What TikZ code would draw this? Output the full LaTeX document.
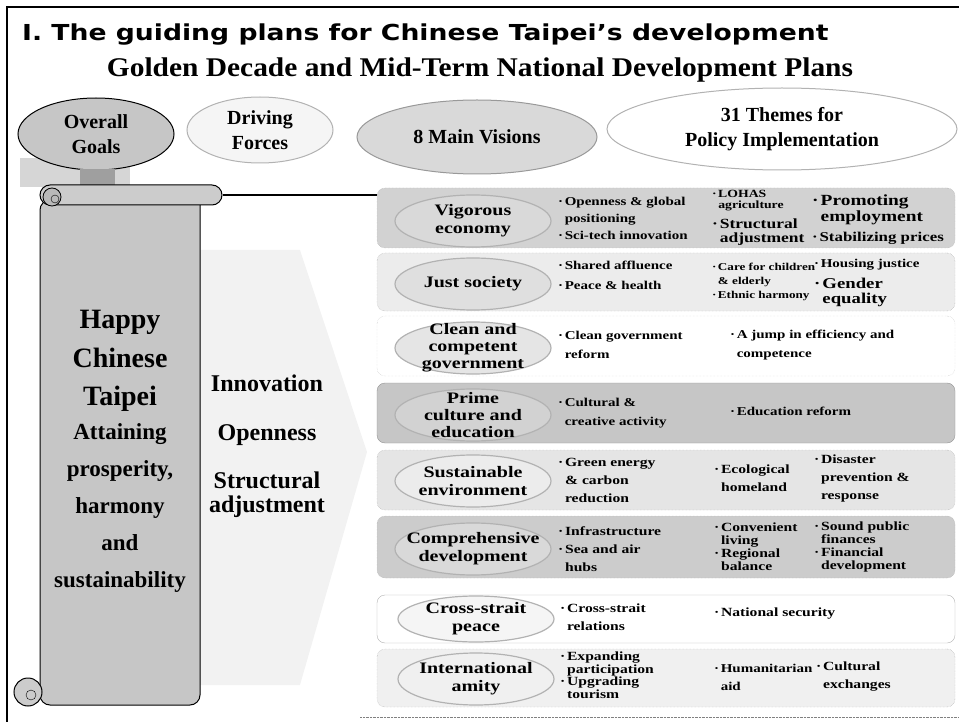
\documentclass[tikz,border=0pt]{standalone}
\usepackage{fontspec}
\setmainfont{Liberation Serif}
\newfontfamily\titlefont[FakeStretch=1.21]{DejaVu Sans}
\newfontfamily\subfont[FakeStretch=1.09]{Liberation Serif}
\newfontfamily\rowfont[FakeStretch=1.25]{Liberation Serif}
\usetikzlibrary{shapes.geometric}
\newcommand{\bul}{\makebox[0.55em][l]{·}}
\newcommand{\indt}{\hspace*{0.55em}}
\newcommand{\fs}[2]{\fontsize{#1}{#2}\selectfont}

\begin{document}
\begin{tikzpicture}[x=1pt, y=-1pt]
  \tikzset{
    head/.style={ellipse, draw=gray!60, line width=1pt, align=center, inner sep=0pt, font=\bfseries\fs{20}{25}},
    rowbox/.style={rounded corners=8pt, draw=gray!70, densely dotted, minimum width=578pt, inner sep=0pt},
    vis/.style={ellipse, draw=gray!60, line width=1.2pt, minimum width=156pt, minimum height=52pt, inner sep=0pt},
    vislabel/.style={align=center, inner sep=0pt, font=\rowfont\bfseries\fs{16}{18}},
    theme/.style={anchor=west, align=left, inner sep=0pt, font=\rowfont\bfseries\fs{12}{17}},
    force/.style={inner sep=0pt, align=center, font=\bfseries\fs{24}{24}}
  }
  \useasboundingbox (0,0) rectangle (959,722);
  \draw[line width=1.5pt] (7,722) -- (7,7) -- (959,7);

  % headings
  \node[anchor=base west, inner sep=0pt, font=\titlefont\bfseries\fs{22}{26}] (title) at (22,41) {I. The guiding plans for Chinese Taipei’s development};
  \node[anchor=base, inner sep=0pt, font=\subfont\bfseries\fs{27}{30}] (subtitle) at (480,77) {Golden Decade and Mid-Term National Development Plans};

  % column heads
  \fill[gray!32] (20,158) rectangle (130,187);
  \node[head, fill=gray!45, draw=black, minimum width=156pt, minimum height=72pt] (goals) at (96,134) {Overall\\Goals};
  \node[head, fill=gray!8, minimum width=146pt, minimum height=66pt] (forces) at (260,130) {Driving\\Forces};
  \node[head, fill=gray!30, draw=gray!80, minimum width=240pt, minimum height=74pt] (visions) at (477,137) {8 Main Visions};
  \node[head, fill=white, minimum width=350pt, minimum height=82pt] (themes) at (782,129) {31 Themes for\\Policy Implementation};
  \node[fill=gray!75, minimum width=35pt, minimum height=16pt, inner sep=0pt] (stem) at (97,177) {};

  % scroll and driving forces
  \fill[gray!10] (200,250) -- (300,250) -- (367,452) -- (300,685) -- (200,685) -- cycle;
  \draw[fill=gray!45, line width=1pt] (40,200) -- (200,200) [rounded corners=10pt] -- (200,705) -- (40,705) -- cycle;
  \node[draw, line width=1pt, fill=gray!40, rounded corners=10pt, minimum width=182pt, minimum height=20pt, inner sep=0pt] (roll) at (131,195) {};
  \draw[line width=0.8pt, fill=gray!55] (52,197) circle (9);
  \draw (55,199) circle (4);
  \draw[line width=1pt, fill=gray!40] (28,692) circle (14);
  \draw (31,695) circle (5);

  \node[align=center, inner sep=0pt, font=\bfseries\fs{28}{38.5}] (happy) at (120,361) {Happy\\Chinese\\Taipei};
  \node[align=center, inner sep=0pt, font=\bfseries\fs{23}{37}] (aim) at (120,508) {Attaining\\prosperity,\\harmony\\and\\sustainability};
  \node[force] (innov) at (267,383) {Innovation};
  \node[force] (open) at (267,435) {Openness};
  \node[force] (struct) at (267,495) {Structural\\adjustment};

  % rows
  \node[rowbox, fill=gray!35, minimum height=60pt] (rowA) at (666,218) {};
  \node[rowbox, fill=gray!15, minimum height=58pt] (rowB) at (666,282) {};
  \node[rowbox, draw=gray!50, minimum height=60pt] (rowC) at (666,346) {};
  \node[rowbox, fill=gray!45, draw=gray!85, solid, minimum height=60pt] (rowD) at (666,413) {};
  \node[rowbox, fill=gray!20, minimum height=60pt] (rowE) at (666,480) {};
  \node[rowbox, fill=gray!40, minimum height=62pt] (rowF) at (666,547) {};
  \node[rowbox, draw=gray!60, solid, minimum height=48pt] (rowG) at (666,619) {};
  \node[rowbox, fill=gray!12, minimum height=58pt] (rowH) at (666,678) {};
  \draw[densely dotted, gray] (360,717) -- (959,717);
  \draw[line width=1.2pt] (roll.east) -- (roll.east -| rowA.west);

  \node[vis, fill=gray!30, label={[vislabel]center:Vigorous\\economy}] (visA) at (473,221) {};
  \node[vis, fill=gray!25, label={[vislabel]center:Just society}] (visB) at (473,284) {};
  \node[vis, fill=gray!20, label={[vislabel, font=\rowfont\bfseries\fs{16}{17}]center:Clean and\\competent\\government}] (visC) at (473,348) {};
  \node[vis, fill=gray!35, label={[vislabel, font=\rowfont\bfseries\fs{16}{17}]center:Prime\\culture and\\education}] (visD) at (473,415) {};
  \node[vis, fill=gray!15, label={[vislabel]center:Sustainable\\environment}] (visE) at (473,481) {};
  \node[vis, fill=gray!30, label={[vislabel]center:Comprehensive\\development}] (visF) at (473,549) {};
  \node[vis, fill=gray!8, minimum height=46pt, label={[vislabel]center:Cross-strait\\peace}] (visG) at (476,619) {};
  \node[vis, fill=gray!12, label={[vislabel]center:International\\amity}] (visH) at (476,679) {};

  % themes
  \node[theme] (thA1) at (558,218) {\bul Openness \& global\\\indt positioning\\\bul Sci-tech innovation};
  \node[theme, font=\rowfont\bfseries\fs{11}{11}] (thA2) at (712,201) {\bul LOHAS\\\indt agriculture};
  \node[theme, font=\rowfont\bfseries\fs{14}{14}] (thA3) at (712,232) {\bul Structural\\\indt adjustment};
  \node[theme, font=\rowfont\bfseries\fs{15.5}{15.5}] (thA4) at (812,210) {\bul Promoting\\\indt employment};
  \node[theme, font=\rowfont\bfseries\fs{13.5}{13.5}] (thA5) at (812,238) {\bul Stabilizing prices};

  \node[theme] (thB1) at (558,265) {\bul Shared affluence};
  \node[theme] (thB2) at (558,285) {\bul Peace \& health};
  \node[theme, font=\rowfont\bfseries\fs{10.5}{14}] (thB3) at (712,282) {\bul Care for children\\\indt \& elderly\\\bul Ethnic harmony};
  \node[theme] (thB4) at (814,265) {\bul Housing justice};
  \node[theme, font=\rowfont\bfseries\fs{15}{15}] (thB5) at (814,292) {\bul Gender\\\indt equality};

  \node[theme, font=\rowfont\bfseries\fs{12}{19}] (thC1) at (558,345) {\bul Clean government\\\indt reform};
  \node[theme, font=\rowfont\bfseries\fs{12}{19}] (thC2) at (730,345) {\bul A jump in efficiency and\\\indt competence};

  \node[theme, font=\rowfont\bfseries\fs{12}{19}] (thD1) at (558,413) {\bul Cultural \&\\\indt creative activity};
  \node[theme] (thD2) at (730,411) {\bul Education reform};

  \node[theme, font=\rowfont\bfseries\fs{12.5}{18}] (thE1) at (558,480) {\bul Green energy\\\indt \& carbon\\\indt reduction};
  \node[theme, font=\rowfont\bfseries\fs{12.5}{18}] (thE2) at (714,478) {\bul Ecological\\\indt homeland};
  \node[theme, font=\rowfont\bfseries\fs{12.5}{18}] (thE3) at (814,478) {\bul Disaster\\\indt prevention \&\\\indt response};

  \node[theme, font=\rowfont\bfseries\fs{12.5}{18}] (thF1) at (558,549) {\bul Infrastructure\\\bul Sea and air\\\indt hubs};
  \node[theme, font=\rowfont\bfseries\fs{12.5}{13}] (thF2) at (714,547) {\bul Convenient\\\indt living\\\bul Regional\\\indt balance};
  \node[theme, font=\rowfont\bfseries\fs{12.5}{13}] (thF3) at (814,547) {\bul Sound public\\\indt finances\\\bul Financial\\\indt development};

  \node[theme, font=\rowfont\bfseries\fs{12.5}{18}] (thG1) at (560,617) {\bul Cross-strait\\\indt relations};
  \node[theme, font=\rowfont\bfseries\fs{12.5}{18}] (thG2) at (714,614) {\bul National security};

  \node[theme, font=\rowfont\bfseries\fs{12.5}{12.5}] (thH1) at (560,675) {\bul Expanding\\\indt participation\\\bul Upgrading\\\indt tourism};
  \node[theme, font=\rowfont\bfseries\fs{12}{18}] (thH2) at (714,677) {\bul Humanitarian\\\indt aid};
  \node[theme, font=\rowfont\bfseries\fs{12.5}{18}] (thH3) at (816,677) {\bul Cultural\\\indt exchanges};
\end{tikzpicture}
\end{document}
